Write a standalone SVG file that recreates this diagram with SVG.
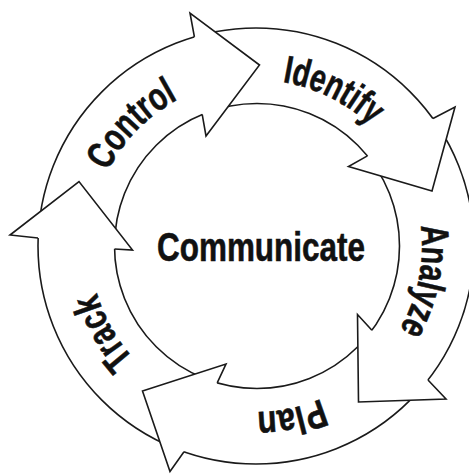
<svg xmlns="http://www.w3.org/2000/svg" xmlns:xlink="http://www.w3.org/1999/xlink" width="469" height="474" viewBox="0 0 469 474">
  <style>
    .ln { fill: #ffffff; stroke: #1a1a1a; stroke-width: 1.6; stroke-linejoin: miter; }
    .lbl { font-family: "Liberation Sans Narrow", "Liberation Sans", Arial, sans-serif; font-weight: bold; font-size: 39px; fill: #111111; stroke: #111111; stroke-width: 0.6; }
    .ctr { font-family: "Liberation Sans", Arial, sans-serif; font-weight: bold; font-size: 40px; fill: #111111; stroke: #111111; stroke-width: 0.6; }
  </style>
  <defs>
    <path id="tp" d="M 90,246 A 166 166 0 1 1 422,246 A 166 166 0 1 1 90,246"/>
  </defs>
  <rect x="0" y="0" width="469" height="474" fill="#ffffff"/>
  <g id="connectors">
    <circle class="ln" cx="256" cy="246" r="218"/>
    <circle class="ln" cx="257" cy="246" r="142.5"/>
    <path class="ln" d="M 194.4,36.9 L 190,13 L 259.5,65 L 206,136 L 202.2,114.4"/>
    <path class="ln" d="M 433,118.5 L 455,107 L 432,191 L 348.5,166.5 L 367.4,155.9"/>
    <path class="ln" d="M 428,380 L 446,399 L 358.5,402 L 357.5,314.5 L 371.9,330.3"/>
    <path class="ln" d="M 217.2,382.8 L 226,364 L 142.5,391 L 170,471.5 L 184,451.8"/>
    <path class="ln" d="M 38,238 L 10,235 L 79,181.5 L 132.5,250 L 114.5,249"/>
  </g>
  <g id="control">
    <text class="lbl"><textPath xlink:href="#tp" href="#tp" startOffset="128.5" text-anchor="middle" textLength="102" lengthAdjust="spacingAndGlyphs">Control</textPath></text>
  </g>
  <g id="identify">
    <text class="lbl"><textPath xlink:href="#tp" href="#tp" startOffset="337.2" text-anchor="middle" textLength="100" lengthAdjust="spacingAndGlyphs">Identify</textPath></text>
  </g>
  <g id="analyze">
    <text class="lbl"><textPath xlink:href="#tp" href="#tp" startOffset="555" text-anchor="middle" textLength="108" lengthAdjust="spacingAndGlyphs">Analyze</textPath></text>
  </g>
  <g id="plan">
    <text class="lbl"><textPath xlink:href="#tp" href="#tp" startOffset="748" text-anchor="middle" textLength="66" lengthAdjust="spacingAndGlyphs">Plan</textPath></text>
  </g>
  <g id="track">
    <text class="lbl"><textPath xlink:href="#tp" href="#tp" startOffset="957" text-anchor="middle" textLength="76" lengthAdjust="spacingAndGlyphs">Track</textPath></text>
  </g>
  <g id="communicate">
    <text class="ctr" transform="translate(261,261) scale(0.786,1)" x="0" y="0" text-anchor="middle">Communicate</text>
  </g>
</svg>
